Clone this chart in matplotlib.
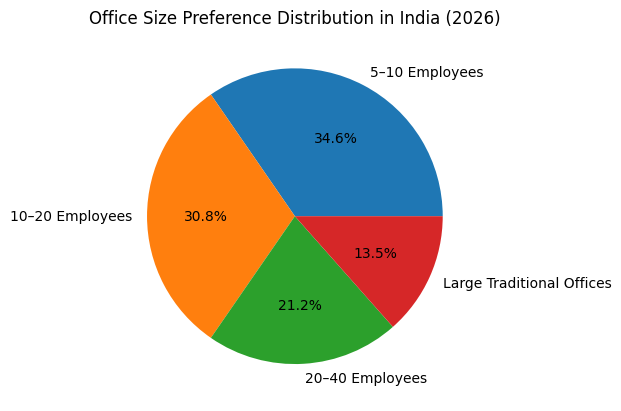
import matplotlib
matplotlib.use("Agg")
import matplotlib.pyplot as plt

labels = ["5–10 Employees", "10–20 Employees", "20–40 Employees", "Large Traditional Offices"]
values = [18, 16, 11, 7]

fig, ax = plt.subplots(figsize=(6.4, 4.8), dpi=100)
ax.pie(values, labels=labels, autopct="%1.1f%%")
ax.set_title("Office Size Preference Distribution in India (2026)")
fig.savefig("out.png", bbox_inches="tight")
